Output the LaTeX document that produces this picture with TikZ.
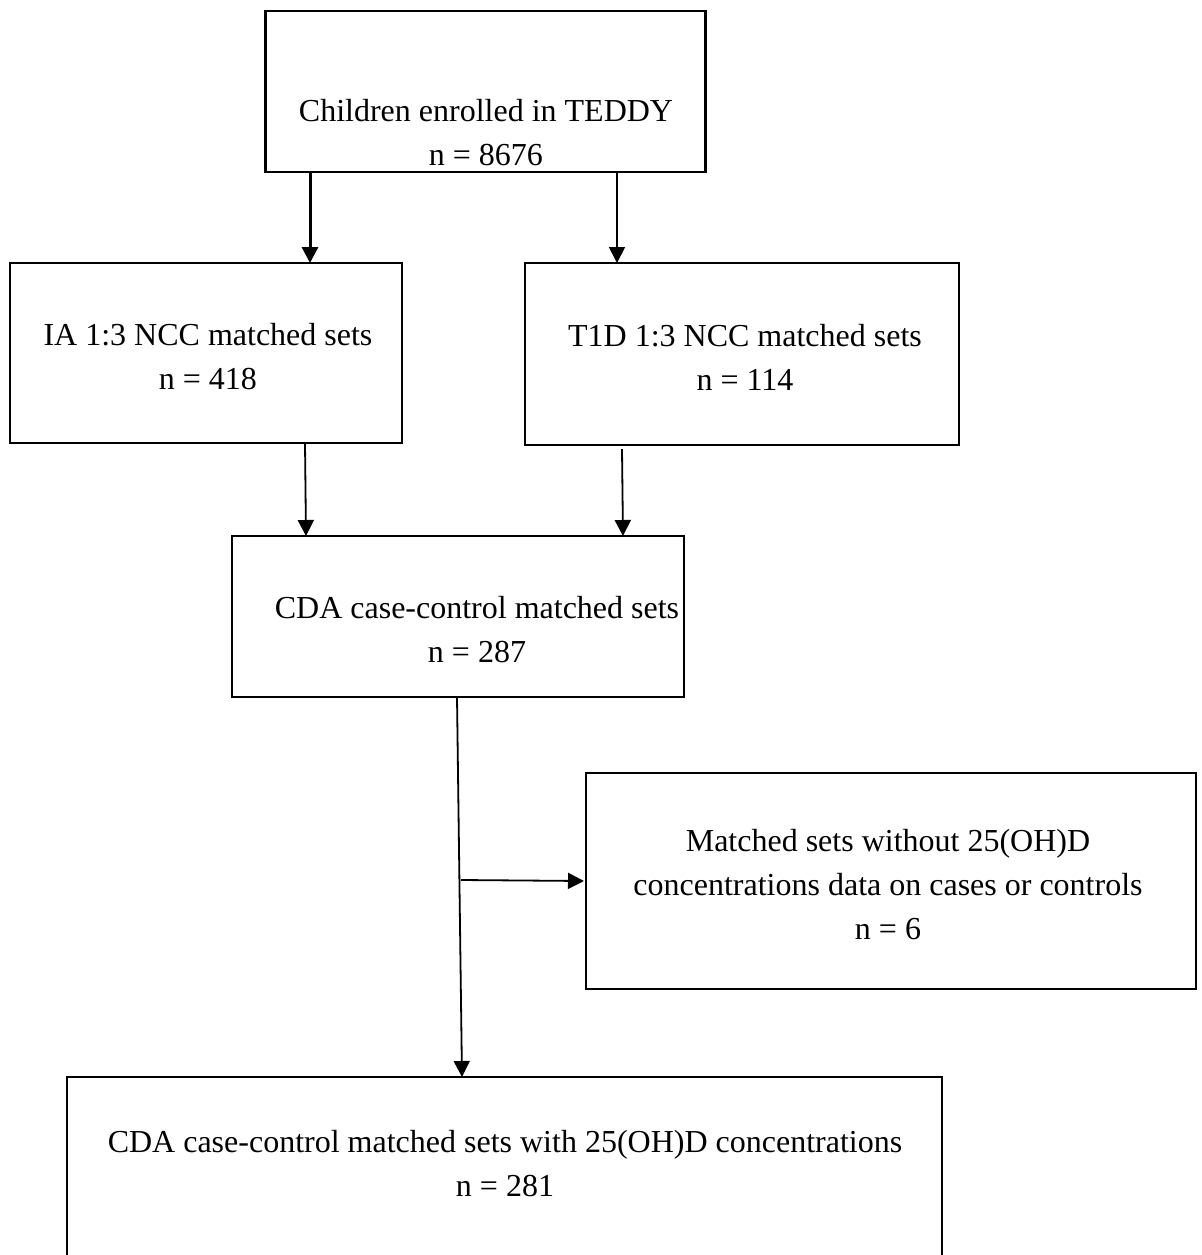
\documentclass[tikz,border=0pt]{standalone}
\usepackage{fontspec}
\setmainfont{Liberation Serif}
\usepackage{tikz}
\usetikzlibrary{arrows.meta}

\tikzset{
  box/.style={draw, line width=1.2pt, inner sep=0pt, outer sep=0pt},
  txt/.style={align=center, inner sep=0pt, font=\fontsize{16}{22}\selectfont},
  arr/.style={line width=0.9pt, -{Triangle[width=8pt,length=8pt]}}
}

\begin{document}
\begin{tikzpicture}[x=0.5pt, y=-0.5pt]
    \clip (0,0) rectangle (1202,1255);
    \fill [white] (0,0) rectangle (1202,1255);
    \node [box, minimum width=220pt, minimum height=80.5pt] (enrol) at (485.5,91.5) {};
    \node [box, minimum width=196pt, minimum height=90pt] (ia) at (206,353) {};
    \node [box, minimum width=217pt, minimum height=91pt] (tid) at (742,354) {};
    \node [box, minimum width=226pt, minimum height=80.5pt] (cda) at (458,616.5) {};
    \node [box, minimum width=305pt, minimum height=108pt] (miss) at (891,881) {};
    \node [box, minimum width=437.5pt, minimum height=93pt] (fin) at (504.5,1170) {};
    \node [txt] (enroltxt) at (486,133) {Children enrolled in TEDDY\\n = 8676};
    \node [txt] (iatxt) at (208,357) {IA 1:3 NCC matched sets\\n = 418};
    \node [txt] (tidtxt) at (745,357) {T1D 1:3 NCC matched sets\\n = 114};
    \node [txt] (cdatxt) at (477,630) {CDA case-control matched sets\\n = 287};
    \node [txt] (misstxt) at (888,885) {Matched sets without 25(OH)D\\concentrations data on cases or controls\\n = 6};
    \node [txt] (fintxt) at (505,1164) {CDA case-control matched sets with 25(OH)D concentrations\\n = 281};
    \coordinate (c1) at (310,0);
    \coordinate (c2) at (617,0);
    \coordinate (c3) at (305,0);
    \coordinate (c4) at (306,0);
    \coordinate (c5) at (622,0);
    \coordinate (c6) at (623,0);
    \coordinate (c7) at (457,0);
    \coordinate (c8) at (462,0);
    \coordinate (br) at (461,880);
    \draw [arr, line width=1.5pt] (enrol.south -| c1) -- (ia.north -| c1);
    \draw [arr] (enrol.south -| c2) -- (tid.north -| c2);
    \draw [arr] (ia.south -| c3) -- (cda.north -| c4);
    \draw [arr] ([yshift=-2pt]tid.south -| c5) -- (cda.north -| c6);
    \draw [arr] (cda.south -| c7) -- (fin.north -| c8);
    \draw [arr] (br) -- ([xshift=-1pt]miss.west);
\end{tikzpicture}
\end{document}
